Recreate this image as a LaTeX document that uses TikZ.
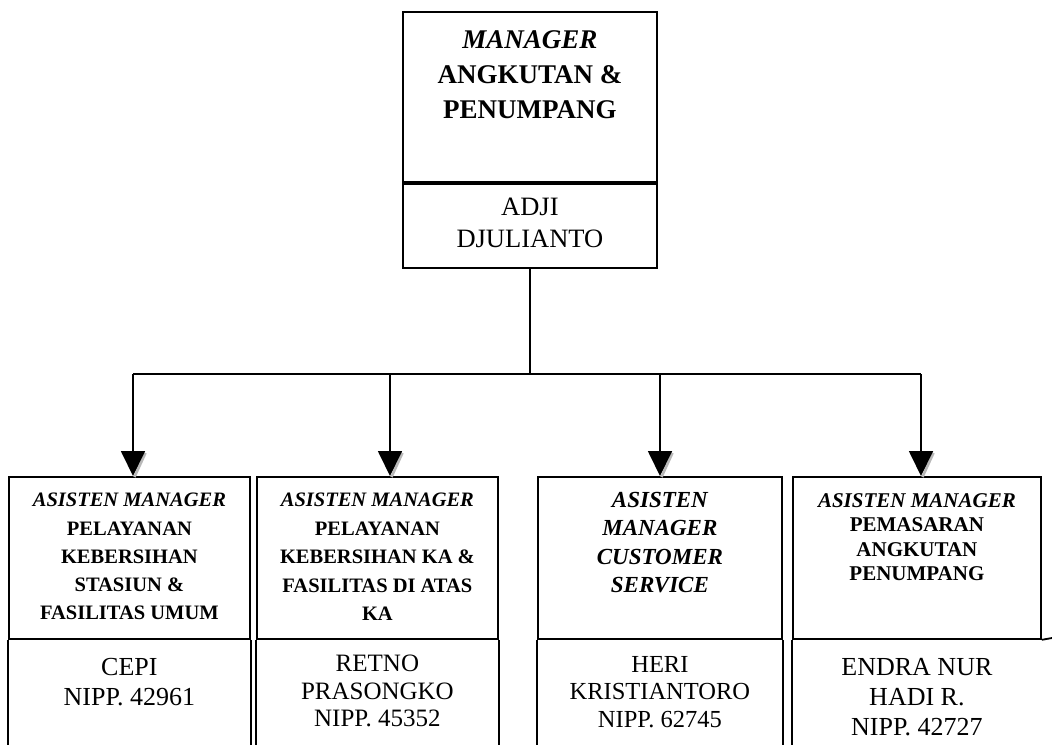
\documentclass[tikz,border=0pt]{standalone}
\usepackage{fontspec}
\setmainfont{Liberation Serif}
\usetikzlibrary{arrows.meta,positioning}

\begin{document}
\begin{tikzpicture}[x=1pt,y=-1pt,
      frame/.style={draw,line width=1.8pt,inner sep=0pt,anchor=north west},
      ttl/.style={align=center,inner sep=0pt,anchor=north},
      nm/.style={align=center,inner sep=0pt,anchor=north},
      link/.style={line width=1.8pt},
      tip/.style={-{Triangle[length=25pt,width=24pt]}},
      shade/.style={gray!55,line width=2.5pt}]
    \useasboundingbox (0,0) rectangle (1052,745);
    % top box
    \node[frame,minimum width=254,minimum height=170] (mgr) at (402,11) {};
    \node[frame,minimum width=254,minimum height=84,anchor=north] (mgrn) at (mgr.south) {};
    \node[ttl,font=\bfseries\fontsize{27}{35}\selectfont] (mgrt) at ([yshift=-19pt]mgr.north)
      {\textit{MANAGER}\\ANGKUTAN \&\\PENUMPANG};
    \node[nm,font=\fontsize{26.5}{32}\selectfont] (mgrnm) at ([yshift=-14.5pt]mgrn.north)
      {ADJI\\DJULIANTO};
    % lower boxes
    \foreach \n/\l/\r in {a/8/249,b/256/497,c/537/781,d/792/1040} {
      \node[frame,minimum width=\r-\l,minimum height=162] (\n) at (\l,476) {};
      \draw[link] (\n.south west) -- (\n.south west |- 0,745);
    }
    \foreach \n in {a,b,c}
      \draw[link] (\n.south east) -- (\n.south east |- 0,745);
    \draw[link] (d.south east) -- (1052,638);
    \node[ttl,font=\bfseries\fontsize{20.5}{28.3}\selectfont] (at) at ([yshift=-17pt]a.north)
      {\textit{ASISTEN MANAGER}\\PELAYANAN\\KEBERSIHAN\\STASIUN \&\\FASILITAS UMUM};
    \node[ttl,font=\bfseries\fontsize{20.5}{28.5}\selectfont] (bt) at ([yshift=-17pt]b.north)
      {\textit{ASISTEN MANAGER}\\PELAYANAN\\KEBERSIHAN KA \&\\FASILITAS DI ATAS\\KA};
    \node[ttl,font=\bfseries\itshape\fontsize{23}{28.3}\selectfont] (ct) at ([yshift=-16pt]c.north)
      {ASISTEN\\MANAGER\\CUSTOMER\\SERVICE};
    \node[ttl,font=\bfseries\fontsize{21}{24.5}\selectfont] (dt) at ([yshift=-17pt]d.north)
      {\textit{ASISTEN MANAGER}\\PEMASARAN\\ANGKUTAN\\PENUMPANG};
    \node[nm,font=\fontsize{26}{30}\selectfont] (an) at ([yshift=-18pt]a.south)
      {CEPI\\NIPP. 42961};
    \node[nm,font=\fontsize{25}{27.5}\selectfont] (bn) at ([yshift=-15pt]b.south)
      {RETNO\\PRASONGKO\\NIPP. 45352};
    \node[nm,font=\fontsize{24.5}{27.5}\selectfont] (cn) at ([yshift=-16pt]c.south)
      {HERI\\KRISTIANTORO\\NIPP. 62745};
    \node[nm,font=\fontsize{26}{30}\selectfont] (dn) at ([yshift=-18pt]d.south)
      {ENDRA NUR\\HADI R.\\NIPP. 42727};
    % connectors
    \coordinate (bus) at (mgrn.south |- 0,374);
    \foreach \n/\x in {a/133,b/390,c/660,d/921}
      \coordinate (t\n) at (\x,374);
    \draw[link] (mgrn.south) -- (bus);
    \draw[link] (ta) -- (td);
    \foreach \n in {a,b,c,d} {
      \draw[shade] ([xshift=1.5pt,yshift=-1pt]t\n |- \n.north) -- ++(11,-24);
      \draw[link,tip] (t\n) -- (t\n |- \n.north);
    }
  \end{tikzpicture}
\end{document}
